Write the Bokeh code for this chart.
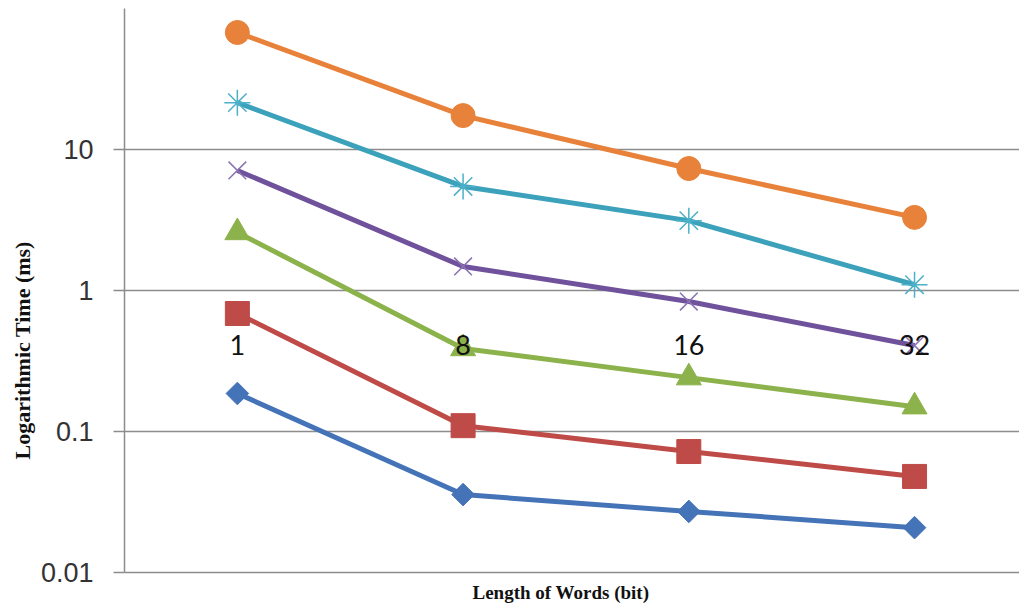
import math

from bokeh.core.properties import value
from bokeh.embed import file_html
from bokeh.models import CustomJSTickFormatter, FixedTicker, Range1d, Title
from bokeh.plotting import figure
from bokeh.resources import INLINE

# Word lengths (category labels) and log-axis ticks
word_lengths = ["1", "8", "16", "32"]
y_ticks = [0.01, 0.1, 1, 10]
y_tick_labels = ["0.01", "0.1", "1", "10"]

# Execution times in ms, one list per series
time_diamond = [0.186, 0.0357, 0.0271, 0.0208]
time_square = [0.687, 0.110, 0.0721, 0.048]
time_triangle = [2.58, 0.388, 0.241, 0.150]
time_cross = [7.10, 1.48, 0.835, 0.407]
time_star = [21.5, 5.47, 3.13, 1.10]
time_circle = [67.6, 17.4, 7.33, 3.30]

GRID = "#8c8c8c"

xs = list(range(1, len(word_lengths) + 1))

p = figure(
    width=1019,
    height=615,
    x_range=Range1d(0.5, 4.465),
    y_range=Range1d(0.01, 100),
    y_axis_type="log",
    output_backend="svg",
    toolbar_location=None,
    min_border_left=124,
    min_border_right=0,
    min_border_top=8,
    min_border_bottom=43,
)
p.outline_line_color = None
p.background_fill_color = "white"
p.border_fill_color = "white"

# horizontal gridlines only at the decades
p.xgrid.visible = False
p.ygrid.ticker = FixedTicker(ticks=y_ticks, minor_ticks=[])
p.ygrid.grid_line_color = GRID
p.ygrid.grid_line_width = 1.5

yax = p.yaxis[0]
yax.ticker = FixedTicker(ticks=y_ticks, minor_ticks=[])
yax.formatter = CustomJSTickFormatter(
    args=dict(vals=y_ticks, labs=y_tick_labels),
    code="""
    let best = 0;
    for (let i = 0; i < vals.length; i++) {
        if (Math.abs(Math.log10(vals[i]) - Math.log10(tick)) <
            Math.abs(Math.log10(vals[best]) - Math.log10(tick))) best = i;
    }
    return labs[best];
    """,
)
yax.axis_line_color = GRID
yax.axis_line_width = 1.5
yax.major_tick_line_color = GRID
yax.major_tick_line_width = 1.5
yax.major_tick_out = 11
yax.major_tick_in = 0
yax.minor_tick_line_color = None
yax.major_label_standoff = 20
yax.major_label_text_font = "Liberation Sans"
yax.major_label_text_font_size = "27px"
yax.major_label_text_color = "#333333"

xax = p.xaxis[0]
xax.ticker = FixedTicker(ticks=[])
xax.axis_line_color = GRID
xax.axis_line_width = 1.5
xax.major_tick_line_color = None
xax.minor_tick_line_color = None
xax.major_label_text_font_size = "0px"
xax.major_label_standoff = 0

LW = 5
series = [
    (time_diamond, "#4473B7"),
    (time_square, "#BE4B48"),
    (time_triangle, "#8CB24B"),
    (time_cross, "#6F529B"),
    (time_star, "#3CA1BB"),
    (time_circle, "#E8823A"),
]
for vals, col in series:
    p.line(xs, vals, line_color=col, line_width=LW, line_join="round")

p.scatter(xs, time_diamond, marker="square", angle=math.pi / 4, size=16,
          fill_color="#4473B7", line_color="#4473B7")
p.scatter(xs, time_square, marker="square", size=24,
          fill_color="#BE4B48", line_color="#BE4B48")
p.scatter(xs, time_triangle, marker="triangle", size=25,
          fill_color="#8CB24B", line_color="#8CB24B")
p.scatter(xs, time_cross, marker="x", size=25,
          line_color="#8A72B3", line_width=1.5)
p.scatter(xs, time_star, marker="asterisk", size=26,
          line_color="#4BB0C8", line_width=1.5)
p.scatter(xs, time_circle, marker="circle", size=24,
          fill_color="#E8823A", line_color="#E8823A")

# category labels sit just under the line at 1
p.text(xs, [1] * len(xs), text=word_lengths, y_offset=54,
       text_align="center", text_baseline="middle",
       text_font=value("Lato"), text_font_size="27px", text_color="#111111")

# axis titles
p.add_layout(Title(text="Logarithmic Time (ms)", align="left", offset=113,
                   standoff=6, text_font="Liberation Serif",
                   text_font_style="bold", text_font_size="22px",
                   text_color="#111111"), "left")
p.add_layout(Title(text="Length of Words (bit)", align="left", offset=348,
                   standoff=14, text_font="Liberation Serif",
                   text_font_style="bold", text_font_size="19px",
                   text_color="#111111"), "below")

open("out.html", "w").write(file_html(p, INLINE))
